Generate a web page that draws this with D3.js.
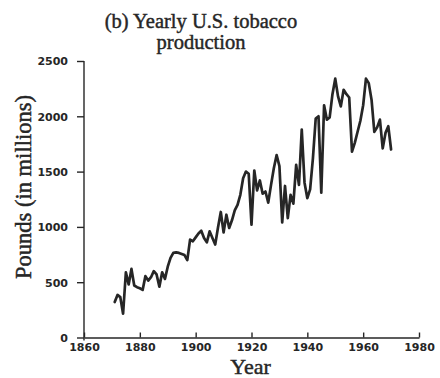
<!DOCTYPE html>
<html>
<head>
<meta charset="utf-8">
<script src="https://cdn.jsdelivr.net/npm/d3@7"></script>
<style>
  html, body { margin: 0; padding: 0; background: #fff; }
  svg { display: block; }
</style>
</head>
<body>
<script>
// Yearly U.S. tobacco production, millions of pounds
const years = d3.range(1871, 1971);
const production = [
  320, 385, 365, 215, 590, 480, 620, 470, 455, 445,   // 1871-1880
  430, 555, 515, 545, 600, 570, 460, 590, 530, 640,   // 1881-1890
  720, 765, 770, 765, 755, 745, 700, 885, 870, 905,   // 1891-1900
  940, 965, 900, 860, 960, 900, 840, 995, 1135, 950,  // 1901-1910
  1110, 990, 1060, 1150, 1200, 1290, 1440, 1500, 1480, 1020, // 1911-1920
  1510, 1330, 1420, 1300, 1320, 1220, 1380, 1530, 1650, 1550, // 1921-1930
  1040, 1370, 1080, 1290, 1210, 1560, 1380, 1880, 1400, 1260, // 1931-1940
  1340, 1620, 1980, 2000, 1310, 2100, 1970, 1990, 2200, 2340, // 1941-1950
  2180, 2090, 2240, 2200, 2170, 1680, 1760, 1860, 1960, 2100, // 1951-1960
  2340, 2300, 2150, 1860, 1900, 1970, 1710, 1850, 1910, 1700  // 1961-1970
];
const xTicks = [1860, 1880, 1900, 1920, 1940, 1960, 1980];
const yTicks = [0, 500, 1000, 1500, 2000, 2500];
const titleLines = ["(b) Yearly U.S. tobacco", "production"];

const W = 440, H = 378;
const svg = d3.select("body").append("svg").attr("width", W).attr("height", H);

const x = d3.scaleLinear().domain([1860, 1980]).range([84, 419]);
const y = d3.scaleLinear().domain([0, 2500]).range([337.5, 61]);

const ink = "#262626";
const tickFont = "'DejaVu Sans', sans-serif";
const serif = "'Liberation Serif', 'Times New Roman', serif";

// x axis: ticks pointing up into the plot
const gx = svg.append("g").attr("transform", `translate(0,${y(0)})`)
  .call(d3.axisTop(x).tickValues(xTicks).tickFormat(d3.format("d")).tickSizeInner(5).tickSizeOuter(0));
gx.selectAll("text").remove();
gx.selectAll("g.tick").append("text")
  .attr("y", 13).attr("text-anchor", "middle")
  .attr("font-family", tickFont).attr("font-weight", "bold").attr("font-size", 11)
  .attr("fill", ink).text(d => d);

// y axis: ticks pointing out to the left
const gy = svg.append("g").attr("transform", `translate(${x(1860)},0)`)
  .call(d3.axisLeft(y).tickValues(yTicks).tickFormat(d3.format("d")).tickSizeInner(7).tickSizeOuter(0));
gy.selectAll("text")
  .attr("x", -16).attr("dy", "0.35em")
  .attr("font-family", tickFont).attr("font-weight", "bold").attr("font-size", 11)
  .attr("fill", ink);

// let the y axis poke slightly below the baseline
gy.select("path.domain").attr("d", `M0,${y(2500)}V${y(0) + 3}`);

svg.selectAll(".domain, .tick line").attr("stroke", ink).attr("stroke-width", 1.4);

// production series
const line = d3.line().x((d, i) => x(years[i])).y(d => y(d)).curve(d3.curveLinear);
svg.append("path").datum(production)
  .attr("d", line).attr("fill", "none")
  .attr("stroke", ink).attr("stroke-width", 2.7)
  .attr("stroke-linejoin", "round").attr("stroke-linecap", "round");

// serif labels, slightly heavier than the regular face
function serifText(sel, size) {
  return sel.attr("font-family", serif).attr("font-size", size)
    .attr("fill", ink).attr("stroke", ink).attr("stroke-width", 0.45);
}

// title
serifText(svg.append("text").attr("text-anchor", "middle"), 20.5)
  .selectAll("tspan").data(titleLines).join("tspan")
  .attr("x", 201).attr("y", (d, i) => 28 + i * 21).text(d => d);

// axis titles
serifText(svg.append("text").attr("x", 250.5).attr("y", 374).attr("text-anchor", "middle"), 22)
  .text("Year");

serifText(svg.append("text").attr("transform", `translate(31,187) rotate(-90)`).attr("text-anchor", "middle"), 22.5)
  .text("Pounds (in millions)");
</script>
</body>
</html>
